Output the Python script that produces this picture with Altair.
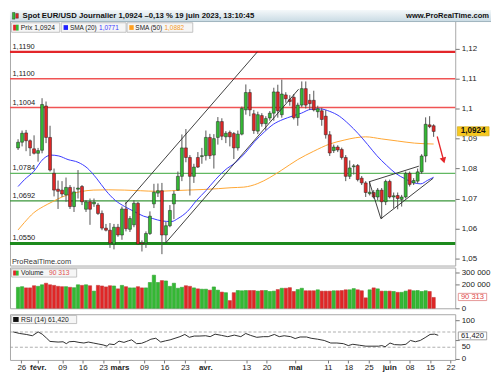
import altair as alt
import numpy as np
import pandas as pd

# ---------------- data ----------------
OPEN = [1.0869, 1.0888, 1.0919, 1.0893, 1.0866, 1.0851, 1.0861, 1.1009, 1.0904, 1.0784,
        1.0731, 1.0728, 1.0712, 1.0737, 1.0673, 1.0731, 1.0740, 1.0664, 1.0689, 1.0682,
        1.0678, 1.0650, 1.0601, 1.0594, 1.0548, 1.0604, 1.0578, 1.0665, 1.0597, 1.0612,
        1.0684, 1.0551, 1.0551, 1.0583, 1.0682, 1.0718, 1.0726, 1.0578, 1.0609, 1.0682,
        1.0728, 1.0774, 1.0869, 1.0837, 1.0774, 1.0837, 1.0840, 1.0843, 1.0904, 1.0845,
        1.0904, 1.0957, 1.0906, 1.0921, 1.0917, 1.0869, 1.0915, 1.0996, 1.1054, 1.0983,
        1.0925, 1.0977, 1.0950, 1.0969, 1.0985, 1.1056, 1.0980, 1.1046, 1.1030, 1.1038,
        1.0970, 1.1012, 1.1067, 1.1028, 1.1028, 1.0990, 1.0993, 1.0975, 1.0913, 1.0860,
        1.0872, 1.0864, 1.0837, 1.0774, 1.0806, 1.0810, 1.0768, 1.0752, 1.0716, 1.0720,
        1.0705, 1.0728, 1.0689, 1.0757, 1.0705, 1.0710, 1.0697, 1.0705, 1.0784, 1.0752,
        1.0758, 1.0789, 1.0842, 1.0946, 1.0943]
HIGH = [1.0898, 1.0927, 1.0929, 1.0897, 1.0911, 1.0869, 1.1035, 1.1024, 1.0943, 1.0800,
        1.0760, 1.0758, 1.0770, 1.0745, 1.0739, 1.0795, 1.0745, 1.0695, 1.0700, 1.0700,
        1.0685, 1.0660, 1.0615, 1.0618, 1.0615, 1.0615, 1.0673, 1.0689, 1.0641, 1.0694,
        1.0689, 1.0560, 1.0590, 1.0657, 1.0749, 1.0750, 1.0752, 1.0622, 1.0678, 1.0726,
        1.0790, 1.0914, 1.0932, 1.0845, 1.0816, 1.0855, 1.0869, 1.0927, 1.0916, 1.0915,
        1.0972, 1.0968, 1.0925, 1.0927, 1.0922, 1.0927, 1.1007, 1.1081, 1.1065, 1.0996,
        1.0990, 1.0985, 1.0975, 1.0992, 1.1070, 1.1080, 1.1097, 1.1055, 1.1045, 1.1049,
        1.1020, 1.1091, 1.1091, 1.1049, 1.1060, 1.1010, 1.1003, 1.0995, 1.0925, 1.0880,
        1.0878, 1.0870, 1.0845, 1.0827, 1.0815, 1.0815, 1.0775, 1.0758, 1.0758, 1.0728,
        1.0735, 1.0735, 1.0763, 1.0763, 1.0720, 1.0720, 1.0712, 1.0790, 1.0790, 1.0768,
        1.0800, 1.0848, 1.0971, 1.0975, 1.0948]
LOW = [1.0862, 1.0874, 1.0858, 1.0842, 1.0847, 1.0823, 1.0851, 1.0885, 1.0790, 1.0707,
       1.0665, 1.0705, 1.0689, 1.0665, 1.0655, 1.0700, 1.0678, 1.0655, 1.0612, 1.0672,
       1.0645, 1.0594, 1.0590, 1.0535, 1.0530, 1.0572, 1.0562, 1.0590, 1.0588, 1.0604,
       1.0546, 1.0523, 1.0535, 1.0578, 1.0668, 1.0705, 1.0514, 1.0551, 1.0604, 1.0631,
       1.0726, 1.0758, 1.0821, 1.0710, 1.0752, 1.0802, 1.0816, 1.0827, 1.0832, 1.0800,
       1.0880, 1.0895, 1.0885, 1.0874, 1.0832, 1.0860, 1.0911, 1.0980, 1.0975, 1.0916,
       1.0915, 1.0940, 1.0928, 1.0960, 1.0960, 1.0970, 1.0970, 1.1020, 1.1010, 1.0964,
       1.0943, 1.1005, 1.1001, 1.0996, 1.0991, 1.0970, 1.0943, 1.0900, 1.0842, 1.0852,
       1.0855, 1.0830, 1.0758, 1.0765, 1.0780, 1.0757, 1.0745, 1.0705, 1.0710, 1.0700,
       1.0694, 1.0632, 1.0678, 1.0700, 1.0667, 1.0664, 1.0673, 1.0700, 1.0740, 1.0745,
       1.0750, 1.0782, 1.0821, 1.0935, 1.0906]
CLOSE = [1.0888, 1.0918, 1.0893, 1.0869, 1.0851, 1.0860, 1.1014, 1.0904, 1.0795, 1.0728,
         1.0724, 1.0715, 1.0737, 1.0673, 1.0722, 1.0735, 1.0689, 1.0689, 1.0664, 1.0688,
         1.0650, 1.0601, 1.0594, 1.0551, 1.0604, 1.0578, 1.0665, 1.0599, 1.0633, 1.0684,
         1.0548, 1.0548, 1.0583, 1.0641, 1.0721, 1.0726, 1.0578, 1.0609, 1.0660, 1.0715,
         1.0774, 1.0869, 1.0837, 1.0774, 1.0805, 1.0805, 1.0843, 1.0904, 1.0843, 1.0900,
         1.0957, 1.0908, 1.0918, 1.0906, 1.0869, 1.0915, 1.1001, 1.1054, 1.0996, 1.0927,
         1.0980, 1.0950, 1.0967, 1.0985, 1.1056, 1.0993, 1.1049, 1.1033, 1.1024, 1.0970,
         1.1012, 1.1067, 1.1012, 1.1017, 1.0996, 1.1000, 1.0964, 1.0913, 1.0852, 1.0872,
         1.0862, 1.0837, 1.0774, 1.0802, 1.0809, 1.0763, 1.0752, 1.0720, 1.0721, 1.0705,
         1.0728, 1.0689, 1.0757, 1.0705, 1.0709, 1.0700, 1.0705, 1.0784, 1.0747, 1.0760,
         1.0789, 1.0842, 1.0948, 1.0940, 1.0924]
VOLUME = [175000, 180000, 170000, 170000, 188000, 183000, 196000, 209000, 196000, 191000,
          183000, 180000, 180000, 175000, 172000, 196000, 191000, 196000, 188000, 143000,
          191000, 186000, 178000, 188000, 186000, 162000, 191000, 180000, 170000, 170000,
          180000, 170000, 170000, 215000, 276000, 215000, 231000, 228000, 183000, 209000,
          167000, 175000, 188000, 183000, 170000, 162000, 159000, 159000, 151000, 178000,
          151000, 135000, 130000, 64000, 130000, 148000, 146000, 148000, 148000, 148000,
          143000, 148000, 148000, 140000, 143000, 156000, 167000, 167000, 172000, 140000,
          156000, 167000, 146000, 146000, 146000, 154000, 143000, 143000, 143000, 146000,
          146000, 148000, 154000, 154000, 164000, 154000, 146000, 87000, 154000, 170000,
          162000, 143000, 143000, 143000, 140000, 133000, 133000, 143000, 154000, 146000,
          148000, 140000, 146000, 140000, 90313]

SMA20_I = [0, 1.6, 3.9, 6.3, 8.2, 10.2, 12.5, 15, 17.3, 19.6, 22, 24.3, 26.7, 29, 31.4,
           33.7, 36, 38.4, 40, 42.4, 44.7, 47, 49.4, 51.8, 54.5, 56.9, 59.2, 61.6, 63.9,
           66.3, 68.6, 70.9, 73.3, 75.7, 78, 80.4, 82.8, 85.1, 87.5, 89.8, 92.2, 94.5,
           96.8, 99.2, 100.8, 102.4, 104]
SMA20_V = [1.0740, 1.0763, 1.0790, 1.0832, 1.0845, 1.0842, 1.0830, 1.0821, 1.0802, 1.0768,
           1.0726, 1.0694, 1.0673, 1.0657, 1.0641, 1.0633, 1.0625, 1.0623, 1.0633, 1.0657,
           1.0694, 1.0726, 1.0763, 1.0795, 1.0821, 1.0853, 1.0890, 1.0922, 1.0948, 1.0964,
           1.0975, 1.0985, 1.0998, 1.0999, 1.0991, 1.0975, 1.0948, 1.0917, 1.0880, 1.0843,
           1.0811, 1.0784, 1.0766, 1.0752, 1.0749, 1.0760, 1.0771]
SMA50_I = [0, 1.6, 3.9, 6.3, 8.6, 11, 13.3, 15.7, 18.8, 22.7, 26.7, 30.6, 34.5, 38.4, 42.4,
           46.3, 50.2, 53.3, 56.5, 60, 63, 66, 70, 74, 78, 81.6, 84.5, 87, 91, 95, 99.2, 104]
SMA50_V = [1.0595, 1.0620, 1.0652, 1.0673, 1.0689, 1.0705, 1.0715, 1.0723, 1.0728, 1.0729,
           1.0728, 1.0726, 1.0724, 1.0726, 1.0728, 1.0730, 1.0733, 1.0736, 1.0738, 1.0750,
           1.0770, 1.0795, 1.0830, 1.0858, 1.0882, 1.0895, 1.0903, 1.0906, 1.0899, 1.0892,
           1.0885, 1.0882]

RSI_I = [0, 1.6, 3.2, 4.7, 6.1, 7.1, 8.2, 9, 11, 12.2, 13, 13.7, 14.9, 16.1, 17.3, 18.4,
         19.6, 20.8, 22, 23, 23.5, 24.7, 25.9, 27.1, 28.2, 29, 30.2, 31.4, 32.6, 33.7, 34.9,
         36.1, 37.3, 38.4, 39.6, 40.8, 42, 43.1, 44.3, 45.5, 47.1, 48.2, 49.4, 51, 52.5,
         54.1, 55.7, 56.9, 58.1, 59.6, 61.2, 62.4, 63.9, 65.1, 66.3, 67.9, 69, 70.2, 71.8,
         72.9, 74.5, 76.1, 77.7, 79.2, 80.8, 82, 83.1, 84.7, 86.3, 87.8, 89.4, 90.2, 91,
         92.2, 93.3, 94.9, 96.1, 97.2, 98.4, 99.6, 100.8, 102, 103.1, 104]
RSI_V = [70.3, 66.1, 63.6, 60.2, 70.3, 64.4, 53.6, 45.3, 43.6, 44.4, 39.4, 44.4, 45.3, 42.7,
         41.1, 43.6, 41.1, 38.6, 36.1, 32.8, 38.6, 36.9, 46.1, 42.7, 46.9, 49.4, 39.4, 40.3,
         45.3, 51.1, 53.6, 43.6, 46.9, 49.4, 53.6, 57.8, 63.6, 56.1, 59.4, 59.4, 60.2, 57.8,
         64.4, 61.1, 57.8, 61.9, 57.8, 66.1, 61.1, 56.1, 57.8, 57.8, 63.6, 57.8, 60.2, 57.8,
         52.8, 56.9, 56.9, 53.6, 51.1, 47.8, 41.1, 41.1, 39.4, 34.4, 37.8, 35.3, 32.8, 32.8,
         32.8, 34.4, 31.1, 41.1, 36.9, 36.1, 37.8, 47.8, 44.4, 47.8, 55.3, 63.6, 64.4, 61.4]
RSI_LEVELS = [30, 70]

LEVELS = [1.1190, 1.1100, 1.1004, 1.0784, 1.0692, 1.0550]
LEVEL_LABELS = ["1,1190", "1,1100", "1,1004", "1,0784", "1,0692", "1,0550"]

TREND_I0 = [26.8, 36.9, 87.9, 87.9, 90.8]
TREND_P0 = [1.0681, 1.0551, 1.0756, 1.0756, 1.06325]
TREND_I1 = [59.9, 70.2, 100.3, 90.8, 103.9]
TREND_P1 = [1.1190, 1.1065, 1.0808, 1.06325, 1.07678]

ARROW_I = [104.9, 106.5]
ARROW_P = [1.0907, 1.0827]

PRICE_TICKS = [1.05, 1.06, 1.07, 1.08, 1.09, 1.10, 1.11, 1.12]
VOL_TICKS = [0, 200000, 300000]
RSI_TICKS = [0, 50, 100]
TICK_IDX = [2, 6, 12, 17, 22, 26, 32, 37, 42, 47, 57, 62, 69, 77, 82, 87, 92, 97, 102, 107]
TICK_LABELS = ["26", "févr.", "09", "16", "23", "mars", "09", "16", "23", "avr.",
               "13", "20", "mai", "11", "18", "25", "juin", "08", "15", "22"]
MONTH_IDX = [6, 26, 47, 69, 92]

TITLE = "Spot EUR/USD Journalier 1,0924 –0,13 % 19 juin 2023, 13:10:45"
SITE = "www.ProRealTime.com"
LAST_PRICE = "1,0924"
SMA20_LAST = "1,0771"
SMA50_LAST = "1,0882"
VOL_LAST = "90 313"
RSI_LAST = "61,420"

# ---------------- layout ----------------
FONT = "Liberation Sans"
SX, SY = 0.968, 0.957
W = 448
H_PRICE, H_VOL, H_RSI = 257, 41, 46
TOP_PRICE, TOP_VOL, TOP_RSI = 0.0, 268.55, 311.4

GREEN, RED = "#34b834", "#e02626"
VGREEN, VRED = "#5cd65c", "#e36868"
VGREEN_S, VRED_S = "#2fa52f", "#c43a3a"

df = pd.DataFrame({"i": np.arange(len(OPEN)), "o": OPEN, "h": HIGH, "l": LOW,
                   "c": CLOSE, "v": VOLUME})
df["dir"] = np.where(df["c"] >= df["o"], "up", "down")

x_scale = alt.Scale(domain=[-0.78, 108.16], nice=False, zero=False)
X = alt.X("i:Q", scale=x_scale, axis=None)

ps = alt.Scale(domain=[1.04760, 1.13293], nice=False, zero=False)
price_axis = alt.Axis(orient="right", values=PRICE_TICKS, title=None, grid=False,
                      labelExpr="replace(format(datum.value, '.2~f'), '.', ',')",
                      tickSize=4, domain=False, labelFontSize=8, labelPadding=2)
vs = alt.Scale(domain=[0, 340000], nice=False, zero=False)
vol_axis = alt.Axis(orient="right", values=VOL_TICKS, title=None, grid=False,
                    labelExpr="replace(format(datum.value, ','), ',', ' ')",
                    tickSize=4, domain=False, labelFontSize=8, labelPadding=2)
rs = alt.Scale(domain=[-3.4, 116.7], nice=False, zero=False)
rsi_axis = alt.Axis(orient="right", values=RSI_TICKS, title=None, grid=False,
                    labelOffset={"condition": {"test": "datum.value == 50", "value": 7}, "value": 0},
                    tickSize=4, domain=False, labelFontSize=8, labelPadding=2)

lab_js = ",".join("'" + s + "'" for s in TICK_LABELS)
idx_js = ",".join(str(t) for t in TICK_IDX)
mon_js = ",".join(str(t) for t in MONTH_IDX)
date_axis = alt.Axis(orient="bottom", values=TICK_IDX, title=None, grid=False,
                     labelExpr=f"[{lab_js}][indexof([{idx_js}], datum.value)]",
                     labelFontWeight={"condition": {"test": f"indexof([{mon_js}], datum.value) >= 0",
                                                    "value": "bold"}, "value": "normal"},
                     tickSize=3, domain=False, labelFontSize=8, labelPadding=1,
                     labelOverlap=False, labelFlush=False)

dummy = pd.DataFrame({"d": [0]})


def rect(x0, x1, y0, y1, top, **kw):
    return alt.Chart(dummy).mark_rect(**kw).encode(
        x=alt.value(x0 * SX), x2=alt.value(x1 * SX),
        y=alt.value((y0 - top) * SY), y2=alt.value((y1 - top) * SY))


def text(s, x, y, top, size=7.0, weight="normal", color="#1a1a1a", align="left"):
    return alt.Chart(dummy).mark_text(
        text=s, align=align, baseline="middle", fontSize=size, fontWeight=weight,
        color=color, font=FONT).encode(x=alt.value(x * SX), y=alt.value((y - top) * SY))


# ---------------- price panel ----------------
level_styles = [("#e3262a", 2.2), ("#f05454", 1.3), ("#f05454", 1.3),
                ("#62b862", 1.3), ("#3a963a", 1.3), ("#1d8a1d", 3)]
price_layers = []
for lv, (col, sw) in zip(LEVELS, level_styles):
    price_layers.append(
        alt.Chart(pd.DataFrame({"p": [lv]})).mark_rule(color=col, strokeWidth=sw).encode(
            y=alt.Y("p:Q", scale=ps, axis=price_axis)))
price_layers.append(
    alt.Chart(pd.DataFrame({"p": LEVELS, "lab": LEVEL_LABELS})).mark_text(
        align="left", baseline="bottom", dy=-1, fontSize=7.5, font=FONT, color="#1a1a1a").encode(
        x=alt.value(2.5), y=alt.Y("p:Q", scale=ps, axis=price_axis), text="lab:N"))

wicks = alt.Chart(df).mark_rule(color="#555555", strokeWidth=1).encode(
    x=X, y=alt.Y("l:Q", scale=ps, axis=price_axis), y2="h:Q")
bodies = alt.Chart(df).mark_bar(size=3, stroke="#202020", strokeWidth=0.5).encode(
    x=X, y=alt.Y("o:Q", scale=ps, axis=price_axis), y2="c:Q",
    fill=alt.Fill("dir:N", scale=alt.Scale(domain=["up", "down"], range=[GREEN, RED]), legend=None))

sma50 = alt.Chart(pd.DataFrame({"i": SMA50_I, "p": SMA50_V})).mark_line(
    color="#ffa633", strokeWidth=1, interpolate="monotone").encode(
    x=X, y=alt.Y("p:Q", scale=ps, axis=price_axis))
sma20 = alt.Chart(pd.DataFrame({"i": SMA20_I, "p": SMA20_V})).mark_line(
    color="#3a3aff", strokeWidth=1, interpolate="monotone").encode(
    x=X, y=alt.Y("p:Q", scale=ps, axis=price_axis))

trend = alt.Chart(pd.DataFrame({"i": TREND_I0, "p": TREND_P0, "i2": TREND_I1, "p2": TREND_P1})).mark_rule(
    color="#2a2a2a", strokeWidth=0.9).encode(
    x=X, x2="i2:Q", y=alt.Y("p:Q", scale=ps, axis=price_axis), y2="p2:Q")

arrow_df = pd.DataFrame({"i": [ARROW_I[0]], "p": [ARROW_P[0]], "i2": [ARROW_I[1]], "p2": [ARROW_P[1]]})
arrow = alt.Chart(arrow_df).mark_rule(color="#e5262a", strokeWidth=1.3).encode(
    x=X, x2="i2:Q", y=alt.Y("p:Q", scale=ps, axis=price_axis), y2="p2:Q")
arrow_head = alt.Chart(pd.DataFrame({"i": [ARROW_I[1]], "p": [ARROW_P[1]]})).mark_point(
    shape="triangle-down", filled=True, color="#e5262a", size=45, angle=344, opacity=1).encode(
    x=X, y=alt.Y("p:Q", scale=ps, axis=price_axis))

price_layers += [sma50, sma20, wicks, bodies, trend, arrow, arrow_head]

header_grad = alt.Gradient(gradient="linear",
                           stops=[alt.GradientStop(color="#f4f8fa", offset=0),
                                  alt.GradientStop(color="#c9dbe4", offset=1)],
                           x1=0, x2=0, y1=0, y2=1)
price_layers += [
    rect(0, 500, 0, 12, TOP_PRICE, fill=header_grad),
    alt.Chart(dummy).mark_rule(color="#9fb3bd", strokeWidth=1).encode(
        x=alt.value(0), x2=alt.value(500 * SX), y=alt.value(12 * SY)),
    rect(2.5, 5.2, 2.5, 9.5, TOP_PRICE, fill=GREEN, stroke="#222", strokeWidth=0.4),
    rect(6.0, 8.7, 3.5, 8.5, TOP_PRICE, fill=RED, stroke="#222", strokeWidth=0.4),
    text(TITLE, 13, 5.8, TOP_PRICE, size=7.8, weight="bold", color="#111"),
    text(SITE, 498, 5.8, TOP_PRICE, size=7.6, weight="bold", color="#111", align="right"),
    # legend boxes
    rect(1.7, 51.7, 13.3, 23.3, TOP_PRICE, fill="#f6f6f6", stroke="#b5b5b5", strokeWidth=0.8),
    rect(3.3, 6.2, 15.3, 21.5, TOP_PRICE, fill=RED),
    rect(6.2, 9.0, 15.3, 21.5, TOP_PRICE, fill=GREEN),
    text("Prix " + LAST_PRICE, 11.2, 18.5, TOP_PRICE, size=6.8),
    rect(53.3, 120.7, 13.3, 23.3, TOP_PRICE, fill="#f6f6f6", stroke="#b5b5b5", strokeWidth=0.8),
    rect(55.7, 60.3, 15.8, 20.8, TOP_PRICE, fill="#2020ff"),
    text("SMA (20)", 62.3, 18.5, TOP_PRICE, size=6.5),
    text(SMA20_LAST, 92.6, 18.5, TOP_PRICE, size=6.5, color="#3a3aff"),
    rect(121.7, 190, 13.3, 23.3, TOP_PRICE, fill="#f6f6f6", stroke="#b5b5b5", strokeWidth=0.8),
    rect(124, 128.6, 15.8, 20.8, TOP_PRICE, fill="#ffa020"),
    text("SMA (50)", 130.3, 18.5, TOP_PRICE, size=6.5),
    text(SMA50_LAST, 160.6, 18.5, TOP_PRICE, size=6.5, color="#f59a1c"),
    text("ProRealTime.com", 2, 265, TOP_PRICE, size=7.5, color="#333"),
    # last price box
    rect(465, 498, 122.6, 132.2, TOP_PRICE, fill="#f7c81e", stroke="#c9a010", strokeWidth=0.6),
    text(LAST_PRICE, 481.5, 127.6, TOP_PRICE, size=8.2, weight="bold", color="#111", align="center"),
]
price = alt.layer(*price_layers).properties(width=W, height=H_PRICE)

# ---------------- volume panel ----------------
vol_bars = alt.Chart(df).mark_bar(size=3.3, strokeWidth=0.6).encode(
    x=X, y=alt.Y("v:Q", scale=vs, axis=vol_axis), y2=alt.Y2(datum=0),
    fill=alt.Fill("dir:N", scale=alt.Scale(domain=["up", "down"], range=[VGREEN, VRED]), legend=None),
    stroke=alt.Stroke("dir:N", scale=alt.Scale(domain=["up", "down"], range=[VGREEN_S, VRED_S]), legend=None))
volume = alt.layer(
    vol_bars,
    rect(1.7, 69.3, 270, 278.6, TOP_VOL, fill="#f6f6f6", stroke="#b5b5b5", strokeWidth=0.8),
    rect(3.3, 6.2, 271.8, 277, TOP_VOL, fill=RED),
    rect(6.2, 9.0, 271.8, 277, TOP_VOL, fill=GREEN),
    text("Volume", 11.5, 274.4, TOP_VOL, size=6.8),
    text(VOL_LAST, 40.5, 274.4, TOP_VOL, size=6.8, color="#e05050"),
    rect(466, 495.5, 295.7, 303.3, TOP_VOL, fill="white", stroke="#e08080", strokeWidth=0.8),
    text(VOL_LAST, 480.7, 299.5, TOP_VOL, size=7.6, color="#e04848", align="center"),
).properties(width=W, height=H_VOL)

# ---------------- RSI panel ----------------
rsi_rules = alt.Chart(pd.DataFrame({"r": RSI_LEVELS})).mark_rule(
    color="#9a9a9a", strokeWidth=0.8, strokeDash=[3, 2]).encode(
    y=alt.Y("r:Q", scale=rs, axis=rsi_axis))
rsi_line = alt.Chart(pd.DataFrame({"i": RSI_I, "r": RSI_V})).mark_line(
    color="#303030", strokeWidth=1).encode(
    x=alt.X("i:Q", scale=x_scale, axis=date_axis), y=alt.Y("r:Q", scale=rs, axis=rsi_axis))
rsi = alt.layer(
    rsi_rules, rsi_line,
    rect(1.7, 69.3, 312.7, 321.2, TOP_RSI, fill="#f6f6f6", stroke="#b5b5b5", strokeWidth=0.8),
    rect(3.3, 9.0, 314.3, 319.5, TOP_RSI, fill="#111"),
    text("RSI (14) " + RSI_LAST, 11.5, 317, TOP_RSI, size=6.8),
    rect(466, 495.5, 330, 338.3, TOP_RSI, fill="white", stroke="#8a8a8a", strokeWidth=0.8),
    text(RSI_LAST, 480.7, 334.2, TOP_RSI, size=7.6, color="#222", align="center"),
).properties(width=W, height=H_RSI)

chart = alt.vconcat(price, volume, rsi, spacing=0, padding=0).resolve_scale(
    x="independent", y="independent").configure_view(
    stroke="#a8a8a8", strokeWidth=1).configure_axis(
    labelFont=FONT, labelColor="#222", tickColor="#777").properties(background="white")

chart.save("out.html", embed_options={"renderer": "svg", "actions": False})
